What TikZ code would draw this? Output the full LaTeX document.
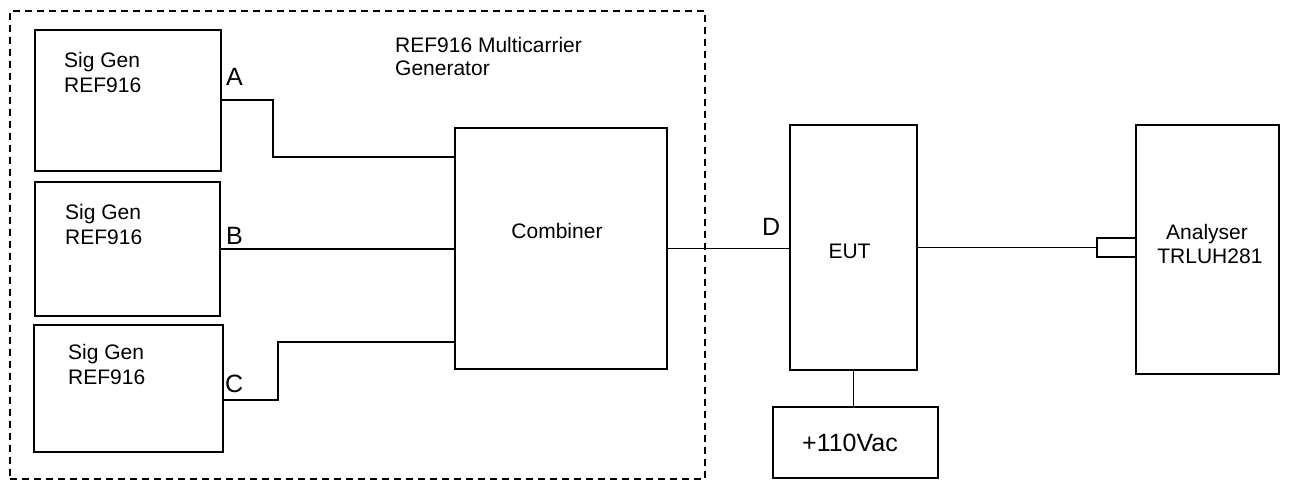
\documentclass[tikz,border=0pt]{standalone}
\usepackage{fontspec}
\setmainfont{Liberation Sans}
\usepackage{tikz}

\begin{document}
\begin{tikzpicture}[
    x=1pt, y=-1pt,
    box/.style={rectangle, draw, line width=1.3pt, inner sep=0pt},
    frame/.style={rectangle, draw, dashed, dash pattern=on 7pt off 5pt, line width=1.3pt, inner sep=0pt},
    wire/.style={line width=1.5pt},
    txt/.style={inner sep=0pt, font=\fontsize{21}{25}\selectfont},
    port/.style={inner sep=0pt, font=\fontsize{25}{28}\selectfont}
]
\useasboundingbox (0,0) rectangle (1301,480);

\node[frame, minimum width=695pt, minimum height=468pt] (mcg) at (357.5,245) {};
\node[box, minimum width=186pt, minimum height=141pt] (sga) at (128,100.5) {};
\node[box, minimum width=185pt, minimum height=134pt] (sgb) at (127.5,249) {};
\node[box, minimum width=189pt, minimum height=127pt] (sgc) at (128.5,388.5) {};
\node[box, minimum width=212pt, minimum height=241pt] (comb) at (561,248.5) {};
\node[box, minimum width=127pt, minimum height=245pt] (eut) at (853.5,247.5) {};
\node[box, minimum width=165pt, minimum height=71pt] (pwr) at (855.5,442.5) {};
\node[box, minimum width=143pt, minimum height=249pt] (ana) at (1207.5,249.5) {};
\node[box, minimum width=39pt, minimum height=19pt] (conn) at (1116.5,247.5) {};

% texts
\node[txt, anchor=base west, align=left, font=\fontsize{21}{23}\selectfont] (mcgtxt) at (395,75) {REF916 Multicarrier\\Generator};
\node[txt, anchor=base west, align=left] (sgatxt) at (64,92) {Sig Gen\\REF916};
\node[txt, anchor=base west, align=left] (sgbtxt) at (65,244) {Sig Gen\\REF916};
\node[txt, anchor=base west, align=left] (sgctxt) at (68,384) {Sig Gen\\REF916};
\node[txt, anchor=base] (combtxt) at (557,238) {Combiner};
\node[txt, anchor=base] (euttxt) at (849.5,258) {EUT};
\node[txt, anchor=base, align=center, font=\fontsize{21}{24}\selectfont] (anatxt) at (1207,263) {Analyser\\\ TRLUH281};
\node[port, anchor=base] (pwrtxt) at (850,451) {+110Vac};

\node[port, anchor=base west] (lbla) at (226,85) {A};
\node[port, anchor=base west] (lblb) at (226,244) {B};
\node[port, anchor=base west] (lblc) at (225,392) {C};
\node[port, anchor=base west] (lbld) at (762,235) {D};

% connections
\draw[wire] (sga.east |- 0,100) -| (273,157) -- (comb.west |- 0,157);
\draw[wire] (sgb.east) -- (comb.west |- sgb.east);
\draw[wire] (sgc.east |- 0,400) -| (278,342) -- (comb.west |- 0,342);
\draw[wire] (comb.east) -- (eut.west |- comb.east);
\draw[wire] (eut.east |- conn.west) -- (conn.west);
\draw[wire] (eut.south) -- (eut.south |- pwr.north);
\end{tikzpicture}
\end{document}
